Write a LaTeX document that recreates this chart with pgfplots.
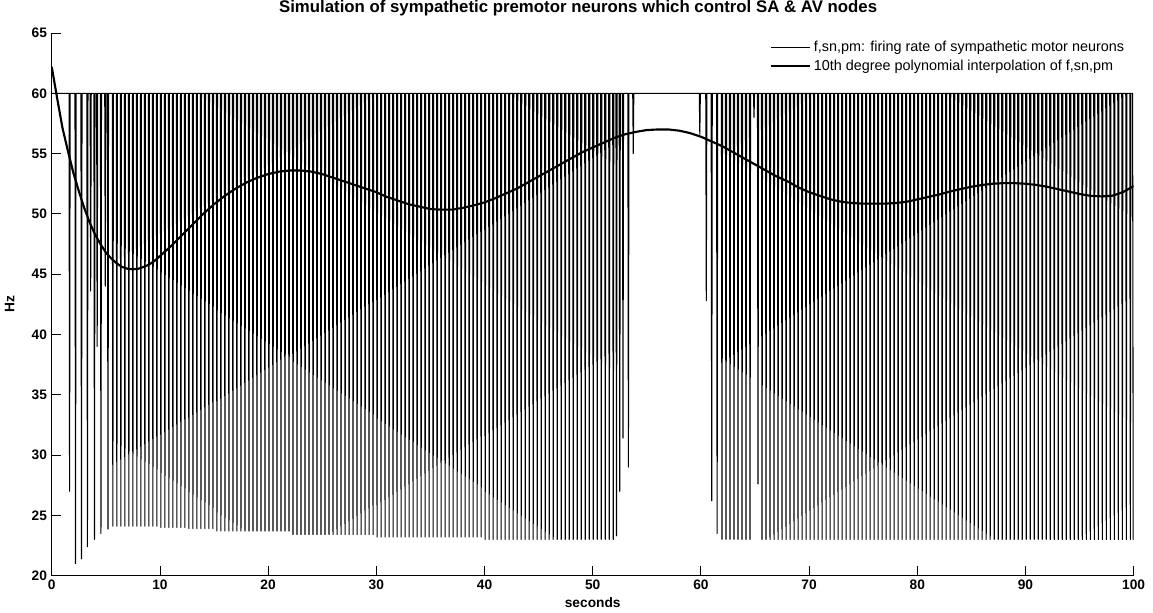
\documentclass[border=0pt]{standalone}
\usepackage{fontspec}
\setmainfont{Liberation Sans}
\usepackage{pgfplots}
\pgfplotsset{compat=1.18}
\begin{document}
\begin{tikzpicture}
\begin{axis}[
  at={(0,0)}, anchor=south west,
  scale only axis, width=811.5pt, height=407pt,
  xmin=0, xmax=100, ymin=20, ymax=65,
  xtick={0,10,...,100}, ytick={20,25,...,65},
  axis x line*=bottom, axis y line*=left,
  axis line style={line width=0.6pt, -},
  tick align=inside, major tick length=7pt,
  tick style={line width=0.6pt, black},
  /pgf/number format/assume math mode=true,
  tick label style={font=\fontsize{10.3}{12}\selectfont\bfseries},
  title={Simulation of sympathetic premotor neurons which control SA \& AV nodes},
  every axis title/.style={font=\fontsize{12.6}{14}\selectfont\bfseries, at={(axis description cs:0.4865,1.046)}, anchor=center},
  xlabel={seconds}, ylabel={Hz},
  every axis x label/.style={at={(axis description cs:0.5,-0.0504)}, anchor=center, font=\fontsize{10.3}{12}\selectfont\bfseries},
  every axis y label/.style={at={(axis description cs:-0.0388,0.5)}, rotate=90, anchor=center, font=\fontsize{10.3}{12}\selectfont\bfseries},
  legend style={draw=none, fill=none, at={(rel axis cs:1,1)}, anchor=north east, xshift=-2pt, yshift=-2pt,
    font=\fontsize{10.8}{12}\selectfont, row sep=0.5pt, cells={anchor=west}},
  legend image code/.code={\draw[#1] (0pt,0pt) -- (29pt,0pt);},
]
\addplot[black, line width=0.8pt, line join=round] coordinates {
(0,60)(1.60,60)(1.65,27)(1.70,60)
(2.15,60)(2.20,21)(2.25,60)
(2.70,60)(2.75,21.4)(2.80,60)
(3.25,60)(3.30,22.4)(3.35,60)
(3.55,60)(3.60,43.6)(3.65,60)
(3.90,60)(3.95,23)(4.00,60)
(4.15,60)(4.20,39)(4.25,60)
(4.50,60)(4.55,23.5)(4.60,60)
(4.90,60)(4.95,44)(5.00,60)
(5.15,60)(5.20,23.85)(5.25,60)
(5.60,60)(5.65,24.1)(5.70,60)
(5.97,60)(6.02,24.1)(6.07,60)
(6.34,60)(6.39,24.1)(6.44,60)
(6.71,60)(6.76,24.1)(6.81,60)
(7.08,60)(7.13,24.1)(7.18,60)
(7.45,60)(7.50,24.1)(7.55,60)
(7.82,60)(7.87,24.1)(7.92,60)
(8.19,60)(8.24,24.1)(8.29,60)
(8.56,60)(8.61,24.1)(8.66,60)
(8.93,60)(8.98,24.1)(9.03,60)
(9.30,60)(9.35,24.1)(9.40,60)
(9.67,60)(9.72,24.1)(9.77,60)
(10.04,60)(10.09,24)(10.14,60)
(10.41,60)(10.46,24)(10.51,60)
(10.78,60)(10.83,24)(10.88,60)
(11.15,60)(11.20,24)(11.25,60)
(11.52,60)(11.57,24)(11.62,60)
(11.89,60)(11.94,24)(11.99,60)
(12.26,60)(12.31,24)(12.36,60)
(12.63,60)(12.68,23.9)(12.73,60)
(13.00,60)(13.05,23.9)(13.10,60)
(13.37,60)(13.42,23.9)(13.47,60)
(13.74,60)(13.79,23.9)(13.84,60)
(14.11,60)(14.16,23.9)(14.21,60)
(14.48,60)(14.53,23.9)(14.58,60)
(14.85,60)(14.90,23.9)(14.95,60)
(15.22,60)(15.27,23.7)(15.32,60)
(15.59,60)(15.64,23.7)(15.69,60)
(15.96,60)(16.01,23.7)(16.06,60)
(16.33,60)(16.38,23.7)(16.43,60)
(16.70,60)(16.75,23.7)(16.80,60)
(17.07,60)(17.12,23.7)(17.17,60)
(17.44,60)(17.49,23.7)(17.54,60)
(17.81,60)(17.86,23.7)(17.91,60)
(18.18,60)(18.23,23.7)(18.28,60)
(18.55,60)(18.60,23.7)(18.65,60)
(18.92,60)(18.97,23.7)(19.02,60)
(19.29,60)(19.34,23.7)(19.39,60)
(19.66,60)(19.71,23.7)(19.76,60)
(20.03,60)(20.08,23.7)(20.13,60)
(20.40,60)(20.45,23.7)(20.50,60)
(20.77,60)(20.82,23.7)(20.87,60)
(21.14,60)(21.19,23.7)(21.24,60)
(21.51,60)(21.56,23.7)(21.61,60)
(21.88,60)(21.93,23.7)(21.98,60)
(22.25,60)(22.30,23.4)(22.35,60)
(22.62,60)(22.67,23.4)(22.72,60)
(22.99,60)(23.04,23.4)(23.09,60)
(23.36,60)(23.41,23.4)(23.46,60)
(23.73,60)(23.78,23.4)(23.83,60)
(24.10,60)(24.15,23.4)(24.20,60)
(24.47,60)(24.52,23.4)(24.57,60)
(24.84,60)(24.89,23.4)(24.94,60)
(25.21,60)(25.26,23.4)(25.31,60)
(25.58,60)(25.63,23.4)(25.68,60)
(25.95,60)(26.00,23.4)(26.05,60)
(26.32,60)(26.37,23.4)(26.42,60)
(26.69,60)(26.74,23.4)(26.79,60)
(27.06,60)(27.11,23.4)(27.16,60)
(27.43,60)(27.48,23.4)(27.53,60)
(27.80,60)(27.85,23.4)(27.90,60)
(28.17,60)(28.22,23.4)(28.27,60)
(28.54,60)(28.59,23.4)(28.64,60)
(28.91,60)(28.96,23.4)(29.01,60)
(29.28,60)(29.33,23.4)(29.38,60)
(29.65,60)(29.70,23.4)(29.75,60)
(30.02,60)(30.07,23.2)(30.12,60)
(30.39,60)(30.44,23.2)(30.49,60)
(30.76,60)(30.81,23.2)(30.86,60)
(31.13,60)(31.18,23.2)(31.23,60)
(31.50,60)(31.55,23.2)(31.60,60)
(31.87,60)(31.92,23.2)(31.97,60)
(32.24,60)(32.29,23.2)(32.34,60)
(32.61,60)(32.66,23.2)(32.71,60)
(32.98,60)(33.03,23.2)(33.08,60)
(33.35,60)(33.40,23.2)(33.45,60)
(33.72,60)(33.77,23.2)(33.82,60)
(34.09,60)(34.14,23.2)(34.19,60)
(34.46,60)(34.51,23.2)(34.56,60)
(34.83,60)(34.88,23.2)(34.93,60)
(35.20,60)(35.25,23.2)(35.30,60)
(35.57,60)(35.62,23.2)(35.67,60)
(35.94,60)(35.99,23.2)(36.04,60)
(36.31,60)(36.36,23.2)(36.41,60)
(36.68,60)(36.73,23.2)(36.78,60)
(37.05,60)(37.10,23.2)(37.15,60)
(37.42,60)(37.47,23.2)(37.52,60)
(37.79,60)(37.84,23.2)(37.89,60)
(38.16,60)(38.21,23.2)(38.26,60)
(38.53,60)(38.58,23.2)(38.63,60)
(38.90,60)(38.95,23.2)(39.00,60)
(39.27,60)(39.32,23.2)(39.37,60)
(39.64,60)(39.69,23.2)(39.74,60)
(40.01,60)(40.06,23)(40.11,60)
(40.38,60)(40.43,23)(40.48,60)
(40.75,60)(40.80,23)(40.85,60)
(41.12,60)(41.17,23)(41.22,60)
(41.49,60)(41.54,23)(41.59,60)
(41.86,60)(41.91,23)(41.96,60)
(42.23,60)(42.28,23)(42.33,60)
(42.60,60)(42.65,23)(42.70,60)
(42.97,60)(43.02,23)(43.07,60)
(43.34,60)(43.39,23)(43.44,60)
(43.71,60)(43.76,23)(43.81,60)
(44.08,60)(44.13,23)(44.18,60)
(44.45,60)(44.50,23)(44.55,60)
(44.82,60)(44.87,23)(44.92,60)
(45.19,60)(45.24,23)(45.29,60)
(45.56,60)(45.61,23)(45.66,60)
(45.93,60)(45.98,23)(46.03,60)
(46.30,60)(46.35,23)(46.40,60)
(46.67,60)(46.72,23)(46.77,60)
(47.04,60)(47.09,23)(47.14,60)
(47.41,60)(47.46,23)(47.51,60)
(47.78,60)(47.83,23)(47.88,60)
(48.15,60)(48.20,23)(48.25,60)
(48.52,60)(48.57,23)(48.62,60)
(48.89,60)(48.94,23)(48.99,60)
(49.26,60)(49.31,23)(49.36,60)
(49.63,60)(49.68,23)(49.73,60)
(50.00,60)(50.05,23)(50.10,60)
(50.37,60)(50.42,23)(50.47,60)
(50.74,60)(50.79,23)(50.84,60)
(51.11,60)(51.16,23)(51.21,60)
(51.48,60)(51.53,23)(51.58,60)
(51.85,60)(51.90,23)(51.95,60)
(52.15,60)(52.20,23.3)(52.25,60)
(52.45,60)(52.50,27)(52.55,60)
(52.75,60)(52.80,31.4)(52.85,60)
(53.25,60)(53.30,29)(53.35,60)
(53.70,60)(53.75,55)(53.80,60)
(59.85,60)(59.90,56.6)(59.95,60)
(60.45,60)(60.50,42.8)(60.55,60)
(60.95,60)(61.00,26.2)(61.05,60)
(61.45,60)(61.50,23.5)(61.55,60)
(61.90,60)(61.95,23)(62.00,60)
(62.27,60)(62.32,23)(62.37,60)
(62.64,60)(62.69,23)(62.74,60)
(63.01,60)(63.06,23)(63.11,60)
(63.38,60)(63.43,23)(63.48,60)
(63.75,60)(63.80,23)(63.85,60)
(64.12,60)(64.17,23)(64.22,60)
(64.49,60)(64.54,23)(64.59,60)
(64.86,60)(64.91,58)(64.96,60)
(65.23,60)(65.28,27.6)(65.33,60)
(65.60,60)(65.65,23)(65.70,60)
(65.97,60)(66.02,23)(66.07,60)
(66.34,60)(66.39,23)(66.44,60)
(66.71,60)(66.76,23)(66.81,60)
(67.08,60)(67.13,23)(67.18,60)
(67.45,60)(67.50,23)(67.55,60)
(67.82,60)(67.87,23)(67.92,60)
(68.19,60)(68.24,23)(68.29,60)
(68.56,60)(68.61,23)(68.66,60)
(68.93,60)(68.98,23)(69.03,60)
(69.30,60)(69.35,23)(69.40,60)
(69.67,60)(69.72,23)(69.77,60)
(70.04,60)(70.09,23)(70.14,60)
(70.41,60)(70.46,23)(70.51,60)
(70.78,60)(70.83,23)(70.88,60)
(71.15,60)(71.20,23)(71.25,60)
(71.52,60)(71.57,23)(71.62,60)
(71.89,60)(71.94,23)(71.99,60)
(72.26,60)(72.31,23)(72.36,60)
(72.63,60)(72.68,23)(72.73,60)
(73.00,60)(73.05,23)(73.10,60)
(73.37,60)(73.42,23)(73.47,60)
(73.74,60)(73.79,23)(73.84,60)
(74.11,60)(74.16,23)(74.21,60)
(74.48,60)(74.53,23)(74.58,60)
(74.85,60)(74.90,23)(74.95,60)
(75.22,60)(75.27,23)(75.32,60)
(75.59,60)(75.64,23)(75.69,60)
(75.96,60)(76.01,23)(76.06,60)
(76.33,60)(76.38,23)(76.43,60)
(76.70,60)(76.75,23)(76.80,60)
(77.07,60)(77.12,23)(77.17,60)
(77.44,60)(77.49,23)(77.54,60)
(77.81,60)(77.86,23)(77.91,60)
(78.18,60)(78.23,23)(78.28,60)
(78.55,60)(78.60,23)(78.65,60)
(78.92,60)(78.97,23)(79.02,60)
(79.29,60)(79.34,23)(79.39,60)
(79.66,60)(79.71,23)(79.76,60)
(80.03,60)(80.08,23)(80.13,60)
(80.40,60)(80.45,23)(80.50,60)
(80.77,60)(80.82,23)(80.87,60)
(81.14,60)(81.19,23)(81.24,60)
(81.51,60)(81.56,23)(81.61,60)
(81.88,60)(81.93,23)(81.98,60)
(82.25,60)(82.30,23)(82.35,60)
(82.62,60)(82.67,23)(82.72,60)
(82.99,60)(83.04,23)(83.09,60)
(83.36,60)(83.41,23)(83.46,60)
(83.73,60)(83.78,23)(83.83,60)
(84.10,60)(84.15,23)(84.20,60)
(84.47,60)(84.52,23)(84.57,60)
(84.84,60)(84.89,23)(84.94,60)
(85.21,60)(85.26,23)(85.31,60)
(85.58,60)(85.63,23)(85.68,60)
(85.95,60)(86.00,23)(86.05,60)
(86.32,60)(86.37,23)(86.42,60)
(86.69,60)(86.74,23)(86.79,60)
(87.06,60)(87.11,23)(87.16,60)
(87.43,60)(87.48,23)(87.53,60)
(87.80,60)(87.85,23)(87.90,60)
(88.17,60)(88.22,23)(88.27,60)
(88.54,60)(88.59,23)(88.64,60)
(88.91,60)(88.96,23)(89.01,60)
(89.28,60)(89.33,23)(89.38,60)
(89.65,60)(89.70,23)(89.75,60)
(90.02,60)(90.07,23)(90.12,60)
(90.39,60)(90.44,23)(90.49,60)
(90.76,60)(90.81,23)(90.86,60)
(91.13,60)(91.18,23)(91.23,60)
(91.50,60)(91.55,23)(91.60,60)
(91.87,60)(91.92,23)(91.97,60)
(92.24,60)(92.29,23)(92.34,60)
(92.61,60)(92.66,23)(92.71,60)
(92.98,60)(93.03,23)(93.08,60)
(93.35,60)(93.40,23)(93.45,60)
(93.72,60)(93.77,23)(93.82,60)
(94.09,60)(94.14,23)(94.19,60)
(94.46,60)(94.51,23)(94.56,60)
(94.83,60)(94.88,23)(94.93,60)
(95.20,60)(95.25,23)(95.30,60)
(95.57,60)(95.62,23)(95.67,60)
(95.94,60)(95.99,23)(96.04,60)
(96.31,60)(96.36,23)(96.41,60)
(96.68,60)(96.73,23)(96.78,60)
(97.05,60)(97.10,23)(97.15,60)
(97.42,60)(97.47,23)(97.52,60)
(97.79,60)(97.84,23)(97.89,60)
(98.16,60)(98.21,23)(98.26,60)
(98.53,60)(98.58,23)(98.63,60)
(98.90,60)(98.95,23)(99.00,60)
(99.27,60)(99.32,23)(99.37,60)
(99.64,60)(99.69,23)(99.74,60)
(99.90,60)(99.96,23)(100,25)
};
\addlegendentry{f,sn,pm: firing rate of sympathetic motor neurons}
\addplot[black, line width=1.6pt, line join=round] coordinates {
(0,62.2)(0.5,59.6)(1,57.1)(1.5,55.2)(2,53.4)(2.5,51.9)(3,50.5)(3.5,49.3)(4,48.3)(4.5,47.5)
(5,46.8)(5.5,46.3)(6,45.9)(6.5,45.6)(7,45.45)(7.5,45.4)(8,45.45)(8.5,45.6)(9,45.8)(9.5,46.1)
(10,46.5)(11,47.3)(12,48.2)(13,49.1)(14,50.0)(15,50.8)(16,51.5)(17,52.1)(18,52.6)(19,53.0)
(20,53.3)(21,53.5)(22,53.6)(23,53.6)(24,53.5)(25,53.3)(26,53.0)(27,52.7)(28,52.4)(29,52.1)
(30,51.8)(31,51.4)(32,51.1)(33,50.8)(34,50.6)(35,50.4)(36,50.35)(37,50.35)(38,50.5)(39,50.7)
(40,50.95)(41,51.3)(42,51.7)(43,52.1)(44,52.6)(45,53.1)(46,53.6)(47,54.1)(48,54.6)(49,55.1)
(50,55.5)(51,55.9)(52,56.3)(53,56.6)(54,56.8)(55,56.95)(56,57.0)(57,57.0)(58,56.9)(59,56.7)
(60,56.4)(61,56.0)(62,55.6)(63,55.1)(64,54.6)(65,54.1)(66,53.6)(67,53.1)(68,52.7)(69,52.2)
(70,51.8)(71,51.5)(72,51.2)(73,51.0)(74,50.9)(75,50.85)(76,50.85)(77,50.85)(78,50.9)(79,51.0)
(80,51.2)(81,51.4)(82,51.6)(83,51.85)(84,52.05)(85,52.25)(86,52.4)(87,52.5)(88,52.55)(89,52.55)
(90,52.5)(91,52.4)(92,52.25)(93,52.05)(94,51.85)(95,51.65)(96,51.5)(97,51.45)(98,51.5)(99,51.8)
(100,52.3)
};
\addlegendentry{10th degree polynomial interpolation of f,sn,pm}
\end{axis}
\pgfresetboundingbox
\path[use as bounding box] (-38.8pt,-28pt) rectangle (826pt,431.75pt);
\end{tikzpicture}
\end{document}
